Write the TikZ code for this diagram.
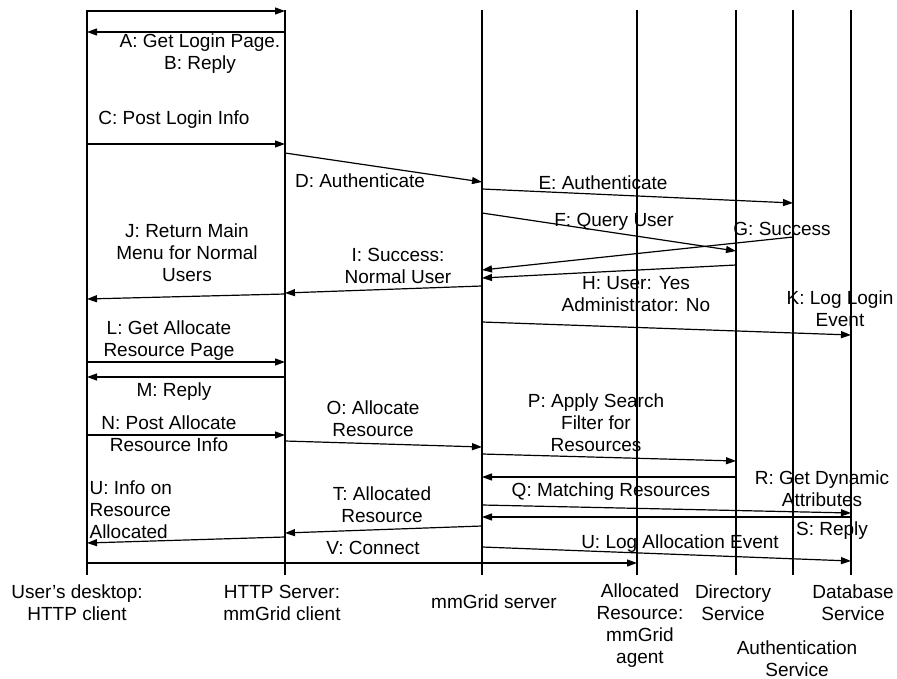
\documentclass[tikz,border=0pt]{standalone}
\usepackage{fontspec}
\setmainfont{Liberation Sans}
\usetikzlibrary{arrows.meta}

\begin{document}
\begin{tikzpicture}[x=1pt,y=-1pt,line width=1.2pt,>={Triangle[length=10pt,width=7pt]}]
        \tikzstyle{lifeline}=[draw=black]
        \tikzstyle{msg}=[->,draw=black]
        \tikzstyle{annot}=[align=center,inner sep=0pt,font=\fontsize{19}{22}\selectfont]
        \tikzstyle{actor}=[annot]

        \useasboundingbox (0,0) rectangle (897,679);

        % Draw the lifelines
        \foreach \name / \x in {user/87,http/285,server/482,agent/637,dir/736,auth/793,db/851}
            \draw[lifeline] (\x,10) coordinate (\name-top) -- (\x,575) coordinate (\name-bot);

        % Draw the messages: name / from / to / start height / end height
        \foreach \name / \src / \dst / \ya / \yb in {A/user/http/11/11, B/http/user/32/32,
                C/user/http/144/144, D/http/server/153/182, E/server/auth/189/203,
                F/server/dir/213/251, G/auth/server/237/270, H/dir/server/265/278,
                I/server/http/286/293, J/http/user/294/299, K/server/db/322/335,
                L/user/http/362/362, M/http/user/377/377, N/user/http/435/435,
                O/http/server/441/447, P/server/dir/454/461, Q/dir/server/477/477,
                R/server/db/505/513, S/db/server/517/517, T/server/http/526/533,
                U1/http/user/537/543, U2/server/db/547/561, V/user/agent/563/563}
        {
            \coordinate (\name-s) at (\src-top |- 0,\ya);
            \coordinate (\name-e) at (\dst-top |- 0,\yb);
            \draw[msg] (\name-s) -- (\name-e);
        }

        % Annotate the messages
        \node[annot] (lab-AB) at (200,54) {A: Get Login Page.\\B: Reply};
        \node[annot] (lab-C) at (174,120) {C: Post Login Info};
        \node[annot] (lab-D) at (360,181) {D: Authenticate};
        \node[annot] (lab-E) at (603,183) {E: Authenticate};
        \node[annot] (lab-F) at (614,222) {F: Query User};
        \node[annot] (lab-G) at (782,229) {G: Success};
        \node[annot] (lab-H) at (636,294.5) {H: User: Yes\\Administrator: No};
        \node[annot] (lab-I) at (398,265.5) {I: Success:\\Normal User};
        \node[annot] (lab-J) at (187,252.5) {J: Return Main\\Menu for Normal\\Users};
        \node[annot] (lab-K) at (840,308.5) {K: Log Login\\Event};
        \node[annot] (lab-L) at (169,341) {L: Get Allocate\\Resource Page};
        \node[annot] (lab-M) at (174,392) {M: Reply};
        \node[annot] (lab-N) at (169,434) {N: Post Allocate\\Resource Info};
        \node[annot] (lab-O) at (373,418.5) {O: Allocate\\Resource};
        \node[annot] (lab-P) at (596,423) {P: Apply Search\\Filter for\\Resources};
        \node[annot] (lab-Q) at (611,492) {Q: Matching Resources};
        \node[annot] (lab-R) at (822,488.5) {R: Get Dynamic\\Attributes};
        \node[annot] (lab-S) at (832,531) {S: Reply};
        \node[annot] (lab-T) at (382,504.5) {T: Allocated\\Resource};
        \node[annot,align=left,anchor=west] (lab-U1) at (89,510) {U: Info on\\Resource\\Allocated};
        \node[annot] (lab-U2) at (680,544) {U: Log Allocation Event};
        \node[annot] (lab-V) at (373,548) {V: Connect};

        % Annotate the lifelines
        \node[actor] (user-lab) at (77,602.5) {User’s desktop:\\HTTP client};
        \node[actor] (http-lab) at (282,602.5) {HTTP Server:\\mmGrid client};
        \node[actor] (server-lab) at (494,602) {mmGrid server};
        \node[actor] (agent-lab) at (640,625.5) {Allocated\\Resource:\\mmGrid\\agent};
        \node[actor] (dir-lab) at (733,602.5) {Directory\\Service};
        \node[actor] (db-lab) at (853,602.5) {Database\\Service};
        \node[actor] (auth-lab) at (797,658.5) {Authentication\\Service};

    \end{tikzpicture}
\end{document}
